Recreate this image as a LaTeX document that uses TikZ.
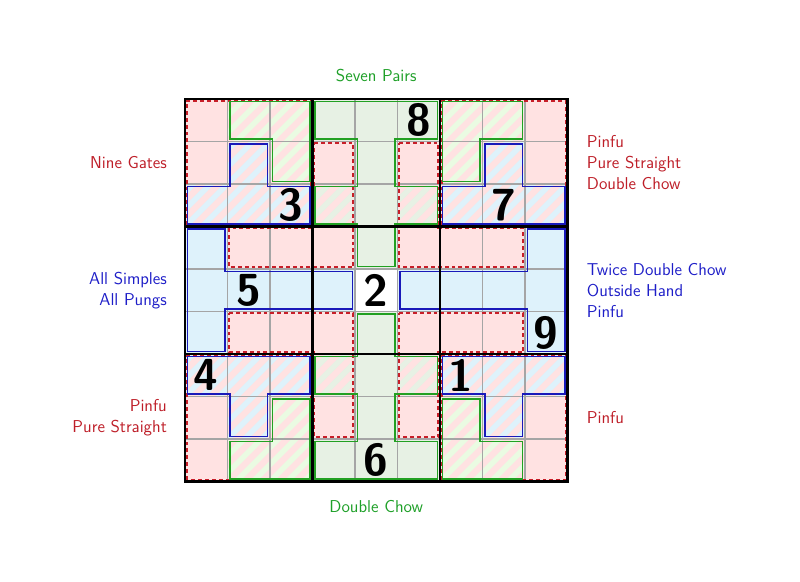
\documentclass[tikz,border=0pt]{standalone}
\usepackage{fontspec}
\definecolor{pinkfill}{RGB}{255,226,226}
\definecolor{bluefill}{RGB}{222,242,251}
\definecolor{greenfill}{RGB}{231,241,228}
\definecolor{greenlight}{RGB}{234,251,226}
\definecolor{redline}{RGB}{200,30,40}
\definecolor{greenline}{RGB}{34,160,34}
\definecolor{blueline}{RGB}{25,25,185}
\definecolor{gridgray}{RGB}{165,165,165}
\definecolor{redtext}{RGB}{190,30,40}
\definecolor{greentext}{RGB}{30,160,40}
\definecolor{bluetext}{RGB}{30,30,200}
% region outlines on the cell corners
\def\pinkcells{(0,6) rectangle (3,9) (6,6) rectangle (9,9) (0,0) rectangle (3,3) (6,0) rectangle (9,3)
  (3,8) -- (4,8) -- (4,5) -- (1,5) -- (1,6) -- (3,6) -- cycle
  (5,8) -- (6,8) -- (6,6) -- (8,6) -- (8,5) -- (5,5) -- cycle
  (1,4) -- (4,4) -- (4,1) -- (3,1) -- (3,3) -- (1,3) -- cycle
  (5,4) -- (8,4) -- (8,3) -- (6,3) -- (6,1) -- (5,1) -- cycle}
\def\greenmid{(3,9) -- (6,9) -- (6,8) -- (5,8) -- (5,7) -- (6,7) -- (6,6) -- (5,6) -- (5,5) -- (4,5) -- (4,6) -- (3,6) -- (3,7) -- (4,7) -- (4,8) -- (3,8) -- cycle
  (4,4) -- (5,4) -- (5,3) -- (6,3) -- (6,2) -- (5,2) -- (5,1) -- (6,1) -- (6,0) -- (3,0) -- (3,1) -- (4,1) -- (4,2) -- (3,2) -- (3,3) -- (4,3) -- cycle}
\def\greencorner{(1,9) -- (3,9) -- (3,7) -- (2,7) -- (2,8) -- (1,8) -- cycle
  (6,9) -- (8,9) -- (8,8) -- (7,8) -- (7,7) -- (6,7) -- cycle
  (2,2) -- (3,2) -- (3,0) -- (1,0) -- (1,1) -- (2,1) -- cycle
  (6,2) -- (7,2) -- (7,1) -- (8,1) -- (8,0) -- (6,0) -- cycle}
\def\bluecells{(1,8) -- (2,8) -- (2,7) -- (3,7) -- (3,6) -- (0,6) -- (0,7) -- (1,7) -- cycle
  (7,8) -- (8,8) -- (8,7) -- (9,7) -- (9,6) -- (6,6) -- (6,7) -- (7,7) -- cycle
  (0,3) -- (3,3) -- (3,2) -- (2,2) -- (2,1) -- (1,1) -- (1,2) -- (0,2) -- cycle
  (6,3) -- (9,3) -- (9,2) -- (8,2) -- (8,1) -- (7,1) -- (7,2) -- (6,2) -- cycle
  (0,6) -- (1,6) -- (1,5) -- (4,5) -- (4,4) -- (1,4) -- (1,3) -- (0,3) -- cycle
  (8,6) -- (9,6) -- (9,3) -- (8,3) -- (8,4) -- (5,4) -- (5,5) -- (8,5) -- cycle}
\begin{document}
\begin{tikzpicture}[
    pinkedge/.style={draw=redline, line width=1.1pt, dash pattern=on 2.6pt off 2pt},
    greenedge/.style={draw=greenline, line width=1.1pt},
    blueedge/.style={draw=blueline, line width=1.1pt},
    gridline/.style={draw=gridgray, line width=0.7pt},
    boxline/.style={draw=black, line width=1.4pt},
    digit/.style={inner sep=0pt, font=\fontsize{30}{30}\selectfont\sffamily\bfseries},
    handlabel/.style={inner sep=0pt, font=\fontsize{11.5}{14}\selectfont\sffamily}
]
\useasboundingbox[fill=white] (-4.353,-2.365) rectangle (14.471,11.329);

% fills
\fill[pinkfill] \pinkcells;
\fill[greenfill] \greenmid;
\fill[greenlight] \greencorner;
\fill[bluefill] \bluecells;

% stripes where two regions meet
\begin{scope}
    \clip \pinkcells;
    \clip \greenmid \greencorner \bluecells;
    \foreach \k in {0,...,50}
        \draw[pinkfill, line width=4.2pt] ({\k*0.4-10},-1) -- ++(11,11);
\end{scope}

% grid
\foreach \i in {1,2,4,5,7,8} {
    \draw[gridline] (\i,0) -- (\i,9);
    \draw[gridline] (0,\i) -- (9,\i);
}

% pink cages
\draw[pinkedge] (0.04,6.04) rectangle (2.96,8.96);
\draw[pinkedge] (6.04,6.04) rectangle (8.96,8.96);
\draw[pinkedge] (0.04,0.04) rectangle (2.96,2.96);
\draw[pinkedge] (6.04,0.04) rectangle (8.96,2.96);
\draw[pinkedge] (3.04,7.96) -- (3.96,7.96) -- (3.96,5.04) -- (1.04,5.04) -- (1.04,5.96) -- (3.04,5.96) -- cycle;
\draw[pinkedge] (5.04,7.96) -- (5.96,7.96) -- (5.96,5.96) -- (7.96,5.96) -- (7.96,5.04) -- (5.04,5.04) -- cycle;
\draw[pinkedge] (1.04,3.96) -- (3.96,3.96) -- (3.96,1.04) -- (3.04,1.04) -- (3.04,3.04) -- (1.04,3.04) -- cycle;
\draw[pinkedge] (5.04,3.96) -- (7.96,3.96) -- (7.96,3.04) -- (5.96,3.04) -- (5.96,1.04) -- (5.04,1.04) -- cycle;

% green cages
\draw[greenedge] (3.06,8.94) -- (5.94,8.94) -- (5.94,8.06) -- (4.94,8.06) -- (4.94,6.94) -- (5.94,6.94) -- (5.94,6.06) -- (4.94,6.06) -- (4.94,5.06) -- (4.06,5.06) -- (4.06,6.06) -- (3.06,6.06) -- (3.06,6.94) -- (4.06,6.94) -- (4.06,8.06) -- (3.06,8.06) -- cycle;
\draw[greenedge] (4.06,3.94) -- (4.94,3.94) -- (4.94,2.94) -- (5.94,2.94) -- (5.94,2.06) -- (4.94,2.06) -- (4.94,0.94) -- (5.94,0.94) -- (5.94,0.06) -- (3.06,0.06) -- (3.06,0.94) -- (4.06,0.94) -- (4.06,2.06) -- (3.06,2.06) -- (3.06,2.94) -- (4.06,2.94) -- cycle;
\draw[greenedge] (1.06,8.94) -- (2.94,8.94) -- (2.94,7.06) -- (2.06,7.06) -- (2.06,8.06) -- (1.06,8.06) -- cycle;
\draw[greenedge] (6.06,8.94) -- (7.94,8.94) -- (7.94,8.06) -- (6.94,8.06) -- (6.94,7.06) -- (6.06,7.06) -- cycle;
\draw[greenedge] (2.06,1.94) -- (2.94,1.94) -- (2.94,0.06) -- (1.06,0.06) -- (1.06,0.94) -- (2.06,0.94) -- cycle;
\draw[greenedge] (6.06,1.94) -- (6.94,1.94) -- (6.94,0.94) -- (7.94,0.94) -- (7.94,0.06) -- (6.06,0.06) -- cycle;

% blue cages
\draw[blueedge] (1.06,7.94) -- (1.94,7.94) -- (1.94,6.94) -- (2.94,6.94) -- (2.94,6.06) -- (0.06,6.06) -- (0.06,6.94) -- (1.06,6.94) -- cycle;
\draw[blueedge] (7.06,7.94) -- (7.94,7.94) -- (7.94,6.94) -- (8.94,6.94) -- (8.94,6.06) -- (6.06,6.06) -- (6.06,6.94) -- (7.06,6.94) -- cycle;
\draw[blueedge] (0.06,2.94) -- (2.94,2.94) -- (2.94,2.06) -- (1.94,2.06) -- (1.94,1.06) -- (1.06,1.06) -- (1.06,2.06) -- (0.06,2.06) -- cycle;
\draw[blueedge] (6.06,2.94) -- (8.94,2.94) -- (8.94,2.06) -- (7.94,2.06) -- (7.94,1.06) -- (7.06,1.06) -- (7.06,2.06) -- (6.06,2.06) -- cycle;
\draw[blueedge] (0.06,5.94) -- (0.94,5.94) -- (0.94,4.94) -- (3.94,4.94) -- (3.94,4.06) -- (0.94,4.06) -- (0.94,3.06) -- (0.06,3.06) -- cycle;
\draw[blueedge] (8.06,5.94) -- (8.94,5.94) -- (8.94,3.06) -- (8.06,3.06) -- (8.06,4.06) -- (5.06,4.06) -- (5.06,4.94) -- (8.06,4.94) -- cycle;

% boxes
\foreach \i in {3,6} {
    \draw[boxline] (\i,0) -- (\i,9);
    \draw[boxline] (0,\i) -- (9,\i);
}
\draw[boxline, line width=1.7pt] (0,0) rectangle (9,9);

% givens
\node[digit] (n8) at (5.5,8.5) {8};
\node[digit] (n3) at (2.5,6.5) {3};
\node[digit] (n7) at (7.5,6.5) {7};
\node[digit] (n5) at (1.5,4.5) {5};
\node[digit] (n2) at (4.5,4.5) {2};
\node[digit] (n9) at (8.5,3.5) {9};
\node[digit] (n4) at (0.5,2.5) {4};
\node[digit] (n1) at (6.5,2.5) {1};
\node[digit] (n6) at (4.5,0.5) {6};

% hands
\node[handlabel, text=greentext, anchor=base] (sevenpairs) at (4.5,9.42) {Seven Pairs};
\node[handlabel, text=greentext, anchor=base] (doublechow) at (4.5,-0.74) {Double Chow};
\node[handlabel, text=redtext, anchor=east, align=right] (ninegates) at (-0.42,7.5) {Nine Gates};
\node[handlabel, text=bluetext, anchor=east, align=right] (allsimples) at (-0.42,4.5) {All Simples\\All Pungs};
\node[handlabel, text=redtext, anchor=east, align=right] (pinfubl) at (-0.42,1.5) {Pinfu\\Pure Straight};
\node[handlabel, text=redtext, anchor=west, align=left] (pinfutr) at (9.45,7.5) {Pinfu\\Pure Straight\\Double Chow};
\node[handlabel, text=bluetext, anchor=west, align=left] (twicechow) at (9.45,4.5) {Twice Double Chow\\Outside Hand\\Pinfu};
\node[handlabel, text=redtext, anchor=west] (pinfubr) at (9.45,1.5) {Pinfu};
\end{tikzpicture}
\end{document}
